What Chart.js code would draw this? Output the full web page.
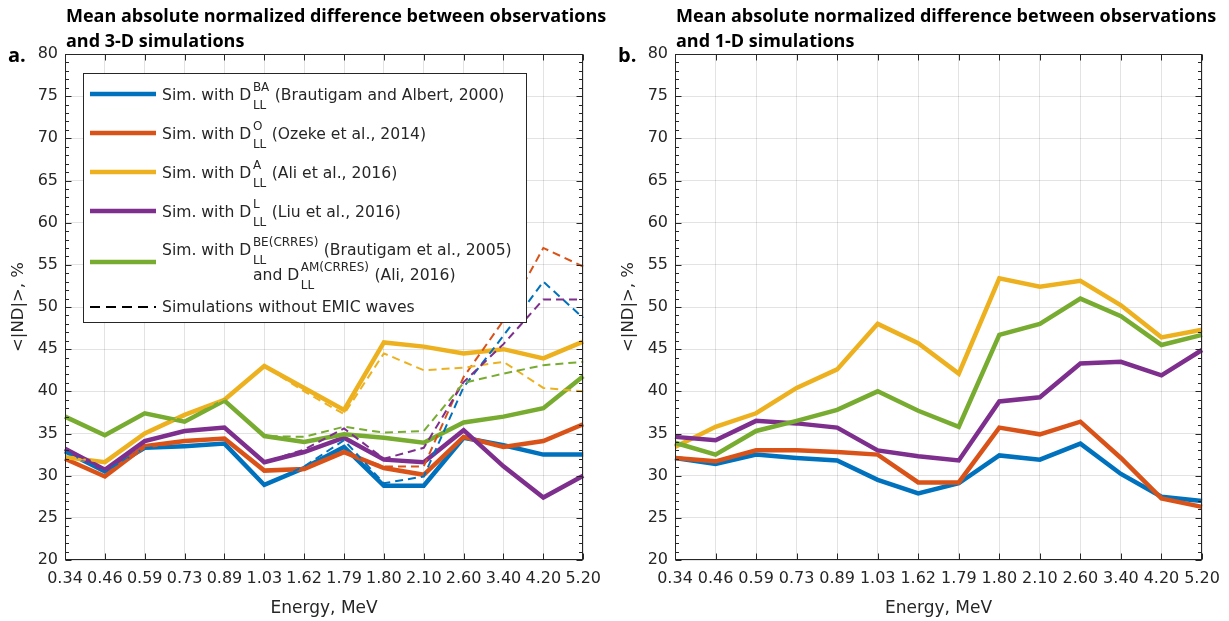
<!DOCTYPE html>
<html><head><meta charset="utf-8">
<script src="https://cdn.jsdelivr.net/npm/chart.js@4.4.0/dist/chart.umd.min.js"></script>
<style>
html,body{margin:0;padding:0;background:#fff;}
#wrap{position:relative;width:1229px;height:621px;overflow:hidden;}
.panel{position:absolute;top:0;height:621px;}
</style></head><body>
<div id="wrap">
<div class="panel" style="left:0;width:610px"><canvas id="c1" width="610" height="621"></canvas></div>
<div class="panel" style="left:610px;width:619px"><canvas id="c2" width="619" height="621"></canvas></div>
</div>
<script>
// ---------- DATA ----------
const energies = ['0.34','0.46','0.59','0.73','0.89','1.03','1.62','1.79','1.80','2.10','2.60','3.40','4.20','5.20'];
const yTicksMin = 20, yTicksMax = 80, yTickStep = 5;

// Panel a: 3-D simulations (solid = with EMIC waves, dashed = without EMIC waves)
const a_BA      = [32.9, 30.5, 33.3, 33.5, 33.8, 28.9, 30.9, 33.4, 28.8, 28.8, 34.5, 33.6, 32.5, 32.5];
const a_O       = [32.0, 29.9, 33.5, 34.1, 34.4, 30.6, 30.8, 32.8, 30.9, 30.1, 34.6, 33.4, 34.1, 36.1];
const a_A       = [32.2, 31.6, 35.0, 37.2, 39.0, 43.0, 40.4, 37.8, 45.8, 45.3, 44.5, 45.0, 43.9, 45.9];
const a_L       = [33.2, 30.7, 34.1, 35.3, 35.7, 31.6, 32.8, 34.5, 31.9, 31.6, 35.4, 31.1, 27.4, 30.0];
const a_BE      = [37.0, 34.8, 37.4, 36.4, 38.9, 34.7, 34.0, 34.9, 34.5, 33.9, 36.3, 37.0, 38.0, 41.8];
const a_BA_noE  = [32.9, 30.5, 33.3, 33.5, 33.8, 28.9, 31.1, 34.2, 29.1, 29.9, 40.5, 46.6, 53.0, 48.7];
const a_O_noE   = [32.0, 29.9, 33.5, 34.1, 34.4, 30.6, 30.8, 32.7, 31.1, 31.1, 41.7, 48.4, 57.0, 54.8];
const a_A_noE   = [32.2, 31.6, 35.0, 37.2, 39.0, 43.0, 40.0, 37.3, 44.5, 42.5, 42.8, 43.5, 40.4, 40.0];
const a_L_noE   = [33.2, 30.7, 34.1, 35.3, 35.7, 31.6, 33.1, 35.6, 32.0, 33.3, 41.1, 45.6, 50.9, 50.9];
const a_BE_noE  = [37.0, 34.8, 37.4, 36.4, 38.9, 34.7, 34.6, 35.8, 35.1, 35.3, 41.0, 42.1, 43.1, 43.5];

// Panel b: 1-D simulations
const b_BA = [32.1, 31.4, 32.5, 32.1, 31.8, 29.5, 27.9, 29.1, 32.4, 31.9, 33.8, 30.2, 27.5, 27.0];
const b_O  = [32.1, 31.7, 33.0, 33.0, 32.8, 32.5, 29.2, 29.2, 35.7, 34.9, 36.4, 32.1, 27.3, 26.3];
const b_A  = [33.4, 35.8, 37.4, 40.4, 42.6, 48.0, 45.7, 42.1, 53.4, 52.4, 53.1, 50.2, 46.4, 47.3];
const b_L  = [34.6, 34.2, 36.5, 36.2, 35.7, 33.0, 32.3, 31.8, 38.8, 39.3, 43.3, 43.5, 41.9, 44.9];
const b_BE = [33.9, 32.5, 35.3, 36.5, 37.8, 40.0, 37.7, 35.8, 46.7, 48.0, 51.0, 48.9, 45.5, 46.7];

// ---------- STYLE ----------
const C = {BA:'#0072BD', O:'#D95319', A:'#EDB120', L:'#7E2F8E', BE:'#77AC30'};
const TXT = '#262626';
const GRID = 'rgba(38,38,38,0.13)';
const FONT = 'DejaVu Sans';
const TITLE_FONT = 'Open Sans';

function solid(data, color, order){ return {data, borderColor:color, backgroundColor:color, borderWidth:4.5, pointRadius:0, tension:0, fill:false, order}; }
function dashed(data, color, order){ return {data, borderColor:color, backgroundColor:color, borderWidth:2, borderDash:[8,5], pointRadius:0, tension:0, fill:false, order}; }

const legendRows = [
  {color:C.BA, parts:[['t','Sim. with D'],['s','BA','LL'],['t',' (Brautigam and Albert, 2000)']]},
  {color:C.O,  parts:[['t','Sim. with D'],['s','O','LL'],['t',' (Ozeke et al., 2014)']]},
  {color:C.A,  parts:[['t','Sim. with D'],['s','A','LL'],['t',' (Ali et al., 2016)']]},
  {color:C.L,  parts:[['t','Sim. with D'],['s','L','LL'],['t',' (Liu et al., 2016)']]},
  {color:C.BE, parts:[['t','Sim. with D'],['s','BE(CRRES)','LL'],['t',' (Brautigam et al., 2005)']],
               parts2:[['t','and D'],['s','AM(CRRES)','LL'],['t',' (Ali, 2016)']]},
  {color:'#000', dash:true, parts:[['t','Simulations without EMIC waves']]}
];

function drawRich(ctx, x, base, parts){
  for (const p of parts){
    if (p[0]==='t'){
      ctx.font = '15.6px "'+FONT+'"';
      ctx.fillText(p[1], x, base);
      x += ctx.measureText(p[1]).width;
    } else {
      ctx.font = '12px "'+FONT+'"';
      const w1 = ctx.measureText(p[1]).width, w2 = ctx.measureText(p[2]).width;
      ctx.fillText(p[1], x+1.5, base-9);
      ctx.fillText(p[2], x+1.5, base+8.5);
      x += Math.max(w1,w2)+2;
    }
  }
}

const framePlugin = {
  id:'frame',
  afterDatasetsDraw(chart, args, opts){
    const {ctx, chartArea:a, scales:{x, y}} = chart;
    ctx.save();
    // box
    ctx.strokeStyle = TXT; ctx.lineWidth = 1;
    const L = Math.round(a.left)+0.5, R = Math.round(a.right)-0.5, T = Math.round(a.top)+0.5, B = Math.round(a.bottom)-0.5;
    ctx.strokeRect(L, T, R-L, B-T);
    ctx.beginPath();
    for (let i=0;i<x.ticks.length;i++){
      const px = Math.round(x.getPixelForTick(i))+0.5;
      ctx.moveTo(px,B); ctx.lineTo(px,B-6);
      ctx.moveTo(px,T); ctx.lineTo(px,T+6);
    }
    for (let v=yTicksMin; v<=yTicksMax; v++){
      const py = Math.round(y.getPixelForValue(v))+0.5;
      const len = v%yTickStep===0 ? 6 : 3.5;
      ctx.moveTo(L,py); ctx.lineTo(L+len,py);
      ctx.moveTo(R,py); ctx.lineTo(R-len,py);
    }
    ctx.stroke();

    // title + panel letter
    ctx.fillStyle = '#000';
    ctx.textBaseline = 'alphabetic';
    ctx.textAlign = 'left';
    ctx.font = 'bold 18px "'+TITLE_FONT+'"';
    ctx.fillText(opts.title[0], a.left+1, 22);
    ctx.fillText(opts.title[1], a.left+1, 47);
    ctx.font = 'bold 20px "'+TITLE_FONT+'"';
    ctx.fillText(opts.letter, 8, 62);

    // legend
    if (opts.legend){
      const bx = 83, by = 73, bw = 443, bh = 249;
      ctx.fillStyle = '#fff';
      ctx.fillRect(bx, by, bw, bh);
      ctx.strokeStyle = TXT; ctx.lineWidth = 1;
      ctx.strokeRect(bx+0.5, by+0.5, bw, bh);
      const lineY = [94, 133, 172, 211, 262, 307];
      const baseY = [100, 139, 178, 217, 255, 312];
      ctx.fillStyle = TXT;
      legendRows.forEach((r,i)=>{
        ctx.beginPath();
        ctx.strokeStyle = r.color;
        if (r.dash){ ctx.lineWidth = 2; ctx.setLineDash([10,6]); }
        else { ctx.lineWidth = 4.5; ctx.setLineDash([]); }
        ctx.moveTo(90, lineY[i]); ctx.lineTo(156, lineY[i]);
        ctx.stroke();
        ctx.setLineDash([]);
        drawRich(ctx, 162, baseY[i], r.parts);
        if (r.parts2) drawRich(ctx, 253, 280, r.parts2);
      });
    }
    ctx.restore();
  }
};

function makeChart(id, datasets, padRight, opts){
  return new Chart(document.getElementById(id), {
    type:'line',
    data:{labels:energies, datasets},
    options:{
      responsive:false, animation:false, devicePixelRatio:1,
      layout:{padding:{top:54, right:padRight, left:0, bottom:0}},
      plugins:{legend:{display:false}, tooltip:{enabled:false}, title:{display:false}, frame:opts},
      scales:{
        x:{
          type:'category', offset:false,
          grid:{color:GRID, drawTicks:false, offset:false, lineWidth:1},
          border:{display:false},
          ticks:{color:TXT, font:{family:FONT, size:16}, padding:9, maxRotation:0, autoSkip:false},
          title:{display:true, text:'Energy, MeV', color:TXT, font:{family:FONT, size:17}, padding:{top:0, bottom:2}},
          afterFit:s=>{ s.height = 61; }
        },
        y:{
          min:yTicksMin, max:yTicksMax,
          grid:{color:GRID, drawTicks:false, lineWidth:1},
          border:{display:false},
          ticks:{stepSize:yTickStep, color:TXT, font:{family:FONT, size:16}, padding:7},
          title:{display:true, text:'<|ND|>, %', color:TXT, font:{family:FONT, size:16.5}, padding:{top:9,bottom:0}},
          afterFit:s=>{ s.width = 65; }
        }
      }
    },
    plugins:[framePlugin]
  });
}

makeChart('c1', [
  dashed(a_BA_noE, C.BA, 5), dashed(a_O_noE, C.O, 4), dashed(a_A_noE, C.A, 3), dashed(a_L_noE, C.L, 2), dashed(a_BE_noE, C.BE, 1),
  solid(a_BA, C.BA, 10), solid(a_O, C.O, 9), solid(a_A, C.A, 8), solid(a_L, C.L, 7), solid(a_BE, C.BE, 6)
], 19, {title:['Mean absolute normalized difference between observations','and 3-D simulations'], letter:'a.', legend:true});

makeChart('c2', [
  solid(b_BA, C.BA, 10), solid(b_O, C.O, 9), solid(b_A, C.A, 8), solid(b_L, C.L, 7), solid(b_BE, C.BE, 6)
], 27, {title:['Mean absolute normalized difference between observations','and 1-D simulations'], letter:'b.', legend:false});
</script>
</body></html>
